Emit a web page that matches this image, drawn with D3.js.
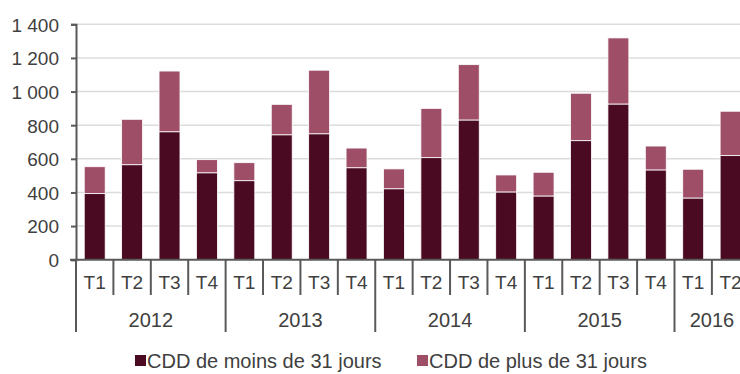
<!DOCTYPE html>
<html>
<head>
<meta charset="utf-8">
<script src="https://cdn.jsdelivr.net/npm/d3@7"></script>
<style>
  html, body { margin: 0; padding: 0; background: #fff; }
  svg { display: block; font-family: "Liberation Sans", Arial, sans-serif; }
</style>
</head>
<body>
<svg id="chart" width="740" height="374"></svg>
<script>
// Quarterly counts of fixed-term contracts (CDD), 2012 T1 – 2016 T2
const years = ["2012", "2013", "2014", "2015", "2016"];
const quartersPerYear = [4, 4, 4, 4, 2];
const quarterNames = ["T1", "T2", "T3", "T4"];
const shortCdd = [393, 565, 761, 517, 470, 743, 749, 547, 422, 607, 831, 403, 379, 708, 926, 534, 367, 619];
const longCdd  = [160, 270, 361,  78, 107, 181, 378, 117, 118, 293, 329, 101, 141, 282, 393, 142, 171, 264];
const yTicks = [0, 200, 400, 600, 800, 1000, 1200, 1400];
const seriesNames = ["CDD de moins de 31 jours", "CDD de plus de 31 jours"];
const colors = ["#4a0a22", "#9e4f67"];

// Build category keys (one per quarter)
const cats = [];
years.forEach((yr, i) => {
  for (let q = 0; q < quartersPerYear[i]; q++) cats.push({ key: yr + "-" + quarterNames[q], year: yr, q: quarterNames[q] });
});
const rows = cats.map((c, i) => ({ key: c.key, short: shortCdd[i], long: longCdd[i] }));

const svg = d3.select("#chart");
const plotLeft = 76, plotRight = 749.3, plotTop = 24.3, plotBottom = 259.7;
const textColor = "#404040", axisColor = "#595959";

const x = d3.scaleBand().domain(cats.map(c => c.key)).range([plotLeft, plotRight]).paddingInner(0.44).paddingOuter(0.22);
const y = d3.scaleLinear().domain([0, 1400]).range([plotBottom, plotTop]);

// Grid lines
svg.append("g").selectAll("line").data(yTicks.filter(t => t > 0)).join("line")
  .attr("x1", plotLeft).attr("x2", 740)
  .attr("y1", d => y(d)).attr("y2", d => y(d))
  .attr("stroke", "#dcdcdc").attr("stroke-width", 1.5);

// Stacked bars
const stack = d3.stack().keys(["short", "long"])(rows);
svg.append("g").selectAll("g").data(stack).join("g")
  .attr("fill", (d, i) => colors[i])
  .selectAll("rect").data(d => d).join("rect")
  .attr("x", d => x(d.data.key))
  .attr("width", x.bandwidth())
  .attr("y", d => y(d[1]))
  .attr("height", d => y(d[0]) - y(d[1]))
  .attr("stroke", "#fff").attr("stroke-width", 0.8);

// Y axis
const yAxis = svg.append("g").attr("transform", `translate(${plotLeft},0)`)
  .call(d3.axisLeft(y).tickValues(yTicks).tickSize(5).tickPadding(12)
    .tickFormat(d => d3.format(",")(d).replace(/,/g, " ")));
yAxis.select(".domain").attr("stroke", axisColor).attr("stroke-width", 2);
yAxis.selectAll(".tick line").attr("stroke", axisColor).attr("stroke-width", 2);
yAxis.selectAll("text").attr("fill", textColor).attr("font-size", 19)
  .attr("font-family", "Liberation Sans, Arial, sans-serif").attr("dy", "0.36em");

// X axis baseline
svg.append("line").attr("x1", 70).attr("x2", 740).attr("y1", plotBottom).attr("y2", plotBottom)
  .attr("stroke", axisColor).attr("stroke-width", 2);

const step = x.step();
const bandStart = i => plotLeft + i * step;

// Quarter separators and labels
const g = svg.append("g");
cats.forEach((c, i) => {
  if (c.q !== "T1") {
    g.append("line").attr("x1", bandStart(i)).attr("x2", bandStart(i))
      .attr("y1", plotBottom).attr("y2", 295).attr("stroke", axisColor).attr("stroke-width", 2);
  }
  g.append("text").attr("x", bandStart(i) + step / 2).attr("y", 282)
    .attr("text-anchor", "middle").attr("dy", "0.36em")
    .attr("fill", textColor).attr("font-size", 19).text(c.q);
});

// Year separators and labels
let idx = 0;
years.forEach((yr, i) => {
  const x0 = bandStart(idx), n = quartersPerYear[i];
  g.append("line").attr("x1", x0).attr("x2", x0).attr("y1", plotBottom).attr("y2", 332)
    .attr("stroke", axisColor).attr("stroke-width", 2);
  g.append("text").attr("x", x0 + n * step / 2).attr("y", 320)
    .attr("text-anchor", "middle").attr("dy", "0.36em")
    .attr("fill", textColor).attr("font-size", 20).text(yr);
  idx += n;
});

// Legend
const legendX = [135, 417];
const legend = svg.append("g");
seriesNames.forEach((name, i) => {
  legend.append("rect").attr("x", legendX[i]).attr("y", 355).attr("width", 11).attr("height", 11)
    .attr("fill", colors[i]);
  legend.append("text").attr("x", legendX[i] + 12).attr("y", 361).attr("dy", "0.36em")
    .attr("fill", textColor).attr("font-size", 20).text(name);
});
</script>
</body>
</html>
